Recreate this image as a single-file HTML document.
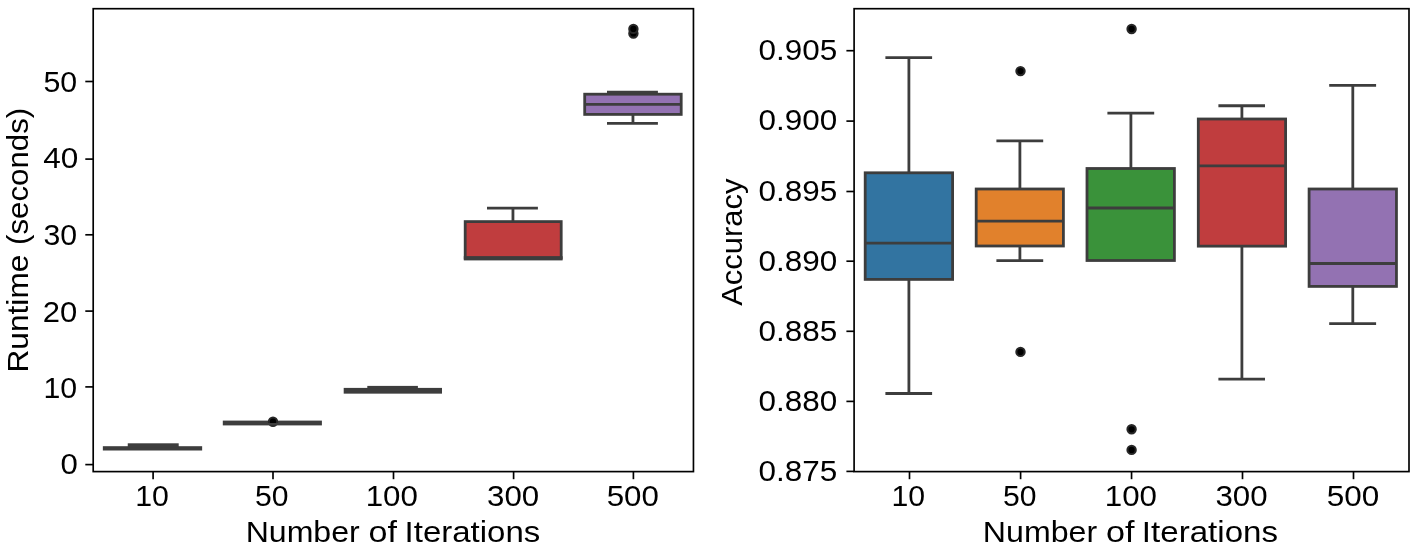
<!DOCTYPE html>
<html><head><meta charset="utf-8"><title>Boxplots</title>
<style>
html,body{margin:0;padding:0;background:#fff;}
svg{display:block;will-change:transform;}
text{font-family:"Liberation Sans",sans-serif;font-size:100px;fill:#000;}
</style></head>
<body>
<svg width="1417" height="549" viewBox="0 0 1417 549">
<rect x="0" y="0" width="1417" height="549" fill="#fff"/>
<rect x="102.85" y="446.20" width="99.30" height="4.30" fill="#3d3d3d"/>
<rect x="127.75" y="443.30" width="50.95" height="4.20" fill="#3d3d3d"/>
<rect x="222.80" y="420.60" width="99.10" height="2.40" fill="#3d3d3d"/>
<circle cx="273.00" cy="421.75" r="4.17" fill="#000" stroke="#272727" stroke-width="2.08"/>
<rect x="222.80" y="423.00" width="99.10" height="2.40" fill="#3d3d3d"/>
<rect x="343.70" y="387.90" width="98.30" height="5.75" fill="#3d3d3d"/>
<rect x="367.30" y="385.90" width="50.60" height="2.60" fill="#3d3d3d"/>
<line x1="512.95" y1="208.20" x2="512.95" y2="221.60" stroke="#3d3d3d" stroke-width="2.8" stroke-linecap="butt"/>
<rect x="465.20" y="221.6" width="96.00" height="36.40" fill="#c03d3e" stroke="#3d3d3d" stroke-width="2.8"/>
<rect x="463.80" y="256.20" width="98.80" height="4.20" fill="#3d3d3d"/>
<line x1="487.00" y1="208.20" x2="537.90" y2="208.20" stroke="#3d3d3d" stroke-width="2.8" stroke-linecap="butt"/>
<line x1="632.95" y1="92.20" x2="632.95" y2="94.20" stroke="#3d3d3d" stroke-width="2.8" stroke-linecap="butt"/>
<line x1="632.95" y1="114.40" x2="632.95" y2="123.40" stroke="#3d3d3d" stroke-width="2.8" stroke-linecap="butt"/>
<rect x="584.70" y="94.20" width="96.50" height="20.20" fill="#9372b2" stroke="#3d3d3d" stroke-width="2.8"/>
<line x1="584.70" y1="104.30" x2="681.20" y2="104.30" stroke="#3d3d3d" stroke-width="2.8" stroke-linecap="butt"/>
<line x1="607.00" y1="92.20" x2="657.90" y2="92.20" stroke="#3d3d3d" stroke-width="2.8" stroke-linecap="butt"/>
<line x1="607.00" y1="123.40" x2="657.90" y2="123.40" stroke="#3d3d3d" stroke-width="2.8" stroke-linecap="butt"/>
<circle cx="633.40" cy="33.45" r="4.17" fill="#000" stroke="#272727" stroke-width="2.08"/>
<circle cx="633.40" cy="28.90" r="4.17" fill="#000" stroke="#272727" stroke-width="2.08"/>
<rect x="93.2" y="8.7" width="600.25" height="462.90" fill="none" stroke="#000" stroke-width="1.67"/>
<line x1="85.30" y1="464.60" x2="93.20" y2="464.60" stroke="#000" stroke-width="1.67" stroke-linecap="butt"/>
<text transform="translate(60.48,474.00) scale(0.3117,0.2951)">0</text>
<line x1="85.30" y1="386.90" x2="93.20" y2="386.90" stroke="#000" stroke-width="1.67" stroke-linecap="butt"/>
<text transform="translate(43.40,398.00) scale(0.3029,0.2951)">10</text>
<line x1="85.30" y1="311.10" x2="93.20" y2="311.10" stroke="#000" stroke-width="1.67" stroke-linecap="butt"/>
<text transform="translate(42.65,322.00) scale(0.3099,0.2951)">20</text>
<line x1="85.30" y1="234.80" x2="93.20" y2="234.80" stroke="#000" stroke-width="1.67" stroke-linecap="butt"/>
<text transform="translate(43.45,245.00) scale(0.3024,0.2951)">30</text>
<line x1="85.30" y1="159.10" x2="93.20" y2="159.10" stroke="#000" stroke-width="1.67" stroke-linecap="butt"/>
<text transform="translate(43.17,168.00) scale(0.3152,0.2951)">40</text>
<line x1="85.30" y1="81.50" x2="93.20" y2="81.50" stroke="#000" stroke-width="1.67" stroke-linecap="butt"/>
<text transform="translate(43.39,92.00) scale(0.3030,0.2951)">50</text>
<line x1="153.10" y1="471.60" x2="153.10" y2="479.20" stroke="#000" stroke-width="1.67" stroke-linecap="butt"/>
<line x1="273.00" y1="471.60" x2="273.00" y2="479.20" stroke="#000" stroke-width="1.67" stroke-linecap="butt"/>
<line x1="393.50" y1="471.60" x2="393.50" y2="479.20" stroke="#000" stroke-width="1.67" stroke-linecap="butt"/>
<line x1="513.60" y1="471.60" x2="513.60" y2="479.20" stroke="#000" stroke-width="1.67" stroke-linecap="butt"/>
<line x1="633.40" y1="471.60" x2="633.40" y2="479.20" stroke="#000" stroke-width="1.67" stroke-linecap="butt"/>
<text transform="translate(135.20,506.00) scale(0.3029,0.2951)">10</text>
<text transform="translate(255.10,506.00) scale(0.3011,0.2951)">50</text>
<text transform="translate(365.72,506.00) scale(0.3129,0.2951)">100</text>
<text transform="translate(487.11,506.00) scale(0.3124,0.2951)">300</text>
<text transform="translate(606.65,506.00) scale(0.3128,0.2951)">500</text>
<text transform="translate(245.67,542.00) scale(0.3207,0.2951)">Number</text>
<text transform="translate(368.47,542.00) scale(0.3405,0.2951)">of</text>
<text transform="translate(404.56,542.00) scale(0.3300,0.2951)">Iterations</text>
<text transform="translate(28.00,372.50) rotate(-90) scale(0.3166,0.2951)">Runtime</text>
<text transform="translate(28.00,244.99) rotate(-90) scale(0.3127,0.2951)">(seconds)</text>
<line x1="908.90" y1="57.60" x2="908.90" y2="172.80" stroke="#3d3d3d" stroke-width="2.8" stroke-linecap="butt"/>
<line x1="908.90" y1="279.40" x2="908.90" y2="393.50" stroke="#3d3d3d" stroke-width="2.8" stroke-linecap="butt"/>
<rect x="865.20" y="172.80" width="87.40" height="106.60" fill="#3274a1" stroke="#3d3d3d" stroke-width="2.8"/>
<line x1="865.20" y1="243.20" x2="952.60" y2="243.20" stroke="#3d3d3d" stroke-width="2.8" stroke-linecap="butt"/>
<line x1="885.40" y1="57.60" x2="932.10" y2="57.60" stroke="#3d3d3d" stroke-width="2.8" stroke-linecap="butt"/>
<line x1="885.40" y1="393.50" x2="932.10" y2="393.50" stroke="#3d3d3d" stroke-width="2.8" stroke-linecap="butt"/>
<line x1="1019.90" y1="140.90" x2="1019.90" y2="189.00" stroke="#3d3d3d" stroke-width="2.8" stroke-linecap="butt"/>
<line x1="1019.90" y1="246.00" x2="1019.90" y2="260.60" stroke="#3d3d3d" stroke-width="2.8" stroke-linecap="butt"/>
<rect x="976.20" y="189.00" width="87.20" height="57.00" fill="#e1812c" stroke="#3d3d3d" stroke-width="2.8"/>
<line x1="976.20" y1="221.20" x2="1063.40" y2="221.20" stroke="#3d3d3d" stroke-width="2.8" stroke-linecap="butt"/>
<line x1="996.40" y1="140.90" x2="1043.20" y2="140.90" stroke="#3d3d3d" stroke-width="2.8" stroke-linecap="butt"/>
<line x1="996.40" y1="260.60" x2="1043.20" y2="260.60" stroke="#3d3d3d" stroke-width="2.8" stroke-linecap="butt"/>
<circle cx="1020.50" cy="71.10" r="4.17" fill="#000" stroke="#272727" stroke-width="2.08"/>
<circle cx="1020.50" cy="351.90" r="4.17" fill="#000" stroke="#272727" stroke-width="2.08"/>
<line x1="1130.90" y1="113.10" x2="1130.90" y2="168.50" stroke="#3d3d3d" stroke-width="2.8" stroke-linecap="butt"/>
<rect x="1087.00" y="168.50" width="87.40" height="92.00" fill="#3a923a" stroke="#3d3d3d" stroke-width="2.8"/>
<line x1="1087.00" y1="208.00" x2="1174.40" y2="208.00" stroke="#3d3d3d" stroke-width="2.8" stroke-linecap="butt"/>
<line x1="1107.40" y1="113.10" x2="1154.20" y2="113.10" stroke="#3d3d3d" stroke-width="2.8" stroke-linecap="butt"/>
<circle cx="1131.60" cy="29.00" r="4.17" fill="#000" stroke="#272727" stroke-width="2.08"/>
<circle cx="1131.60" cy="429.30" r="4.17" fill="#000" stroke="#272727" stroke-width="2.08"/>
<circle cx="1131.60" cy="449.90" r="4.17" fill="#000" stroke="#272727" stroke-width="2.08"/>
<line x1="1241.90" y1="105.75" x2="1241.90" y2="119.00" stroke="#3d3d3d" stroke-width="2.8" stroke-linecap="butt"/>
<line x1="1241.90" y1="246.15" x2="1241.90" y2="379.05" stroke="#3d3d3d" stroke-width="2.8" stroke-linecap="butt"/>
<rect x="1198.30" y="119.00" width="87.30" height="127.15" fill="#c03d3e" stroke="#3d3d3d" stroke-width="2.8"/>
<line x1="1198.30" y1="165.80" x2="1285.60" y2="165.80" stroke="#3d3d3d" stroke-width="2.8" stroke-linecap="butt"/>
<line x1="1218.40" y1="105.75" x2="1265.00" y2="105.75" stroke="#3d3d3d" stroke-width="2.8" stroke-linecap="butt"/>
<line x1="1218.40" y1="379.05" x2="1265.00" y2="379.05" stroke="#3d3d3d" stroke-width="2.8" stroke-linecap="butt"/>
<line x1="1352.80" y1="85.45" x2="1352.80" y2="189.00" stroke="#3d3d3d" stroke-width="2.8" stroke-linecap="butt"/>
<line x1="1352.80" y1="286.40" x2="1352.80" y2="323.60" stroke="#3d3d3d" stroke-width="2.8" stroke-linecap="butt"/>
<rect x="1309.10" y="189.00" width="87.35" height="97.40" fill="#9372b2" stroke="#3d3d3d" stroke-width="2.8"/>
<line x1="1309.10" y1="263.50" x2="1396.45" y2="263.50" stroke="#3d3d3d" stroke-width="2.8" stroke-linecap="butt"/>
<line x1="1329.20" y1="85.45" x2="1376.10" y2="85.45" stroke="#3d3d3d" stroke-width="2.8" stroke-linecap="butt"/>
<line x1="1329.20" y1="323.60" x2="1376.10" y2="323.60" stroke="#3d3d3d" stroke-width="2.8" stroke-linecap="butt"/>
<rect x="854.1" y="8.7" width="554.90" height="462.90" fill="none" stroke="#000" stroke-width="1.67"/>
<line x1="846.40" y1="50.70" x2="854.10" y2="50.70" stroke="#000" stroke-width="1.67" stroke-linecap="butt"/>
<text transform="translate(758.47,60.00) scale(0.3147,0.2951)">0.905</text>
<line x1="846.40" y1="121.10" x2="854.10" y2="121.10" stroke="#000" stroke-width="1.67" stroke-linecap="butt"/>
<text transform="translate(758.47,130.00) scale(0.3144,0.2951)">0.900</text>
<line x1="846.40" y1="191.50" x2="854.10" y2="191.50" stroke="#000" stroke-width="1.67" stroke-linecap="butt"/>
<text transform="translate(758.47,201.00) scale(0.3147,0.2951)">0.895</text>
<line x1="846.40" y1="261.20" x2="854.10" y2="261.20" stroke="#000" stroke-width="1.67" stroke-linecap="butt"/>
<text transform="translate(758.47,271.00) scale(0.3144,0.2951)">0.890</text>
<line x1="846.40" y1="331.30" x2="854.10" y2="331.30" stroke="#000" stroke-width="1.67" stroke-linecap="butt"/>
<text transform="translate(758.47,341.00) scale(0.3147,0.2951)">0.885</text>
<line x1="846.40" y1="401.40" x2="854.10" y2="401.40" stroke="#000" stroke-width="1.67" stroke-linecap="butt"/>
<text transform="translate(758.47,411.00) scale(0.3144,0.2951)">0.880</text>
<line x1="846.40" y1="471.40" x2="854.10" y2="471.40" stroke="#000" stroke-width="1.67" stroke-linecap="butt"/>
<text transform="translate(758.47,481.00) scale(0.3147,0.2951)">0.875</text>
<line x1="909.50" y1="471.60" x2="909.50" y2="479.20" stroke="#000" stroke-width="1.67" stroke-linecap="butt"/>
<line x1="1020.60" y1="471.60" x2="1020.60" y2="479.20" stroke="#000" stroke-width="1.67" stroke-linecap="butt"/>
<line x1="1131.55" y1="471.60" x2="1131.55" y2="479.20" stroke="#000" stroke-width="1.67" stroke-linecap="butt"/>
<line x1="1242.50" y1="471.60" x2="1242.50" y2="479.20" stroke="#000" stroke-width="1.67" stroke-linecap="butt"/>
<line x1="1353.50" y1="471.60" x2="1353.50" y2="479.20" stroke="#000" stroke-width="1.67" stroke-linecap="butt"/>
<text transform="translate(891.55,506.00) scale(0.3024,0.2951)">10</text>
<text transform="translate(1002.90,506.00) scale(0.3011,0.2951)">50</text>
<text transform="translate(1104.82,506.00) scale(0.3129,0.2951)">100</text>
<text transform="translate(1215.41,506.00) scale(0.3124,0.2951)">300</text>
<text transform="translate(1326.74,506.00) scale(0.3147,0.2951)">500</text>
<text transform="translate(982.87,542.00) scale(0.3213,0.2951)">Number</text>
<text transform="translate(1106.06,542.00) scale(0.3417,0.2951)">of</text>
<text transform="translate(1141.85,542.00) scale(0.3312,0.2951)">Iterations</text>
<text transform="translate(742.10,305.76) rotate(-90) scale(0.3092,0.2951)">Accuracy</text>
</svg>
</body></html>
